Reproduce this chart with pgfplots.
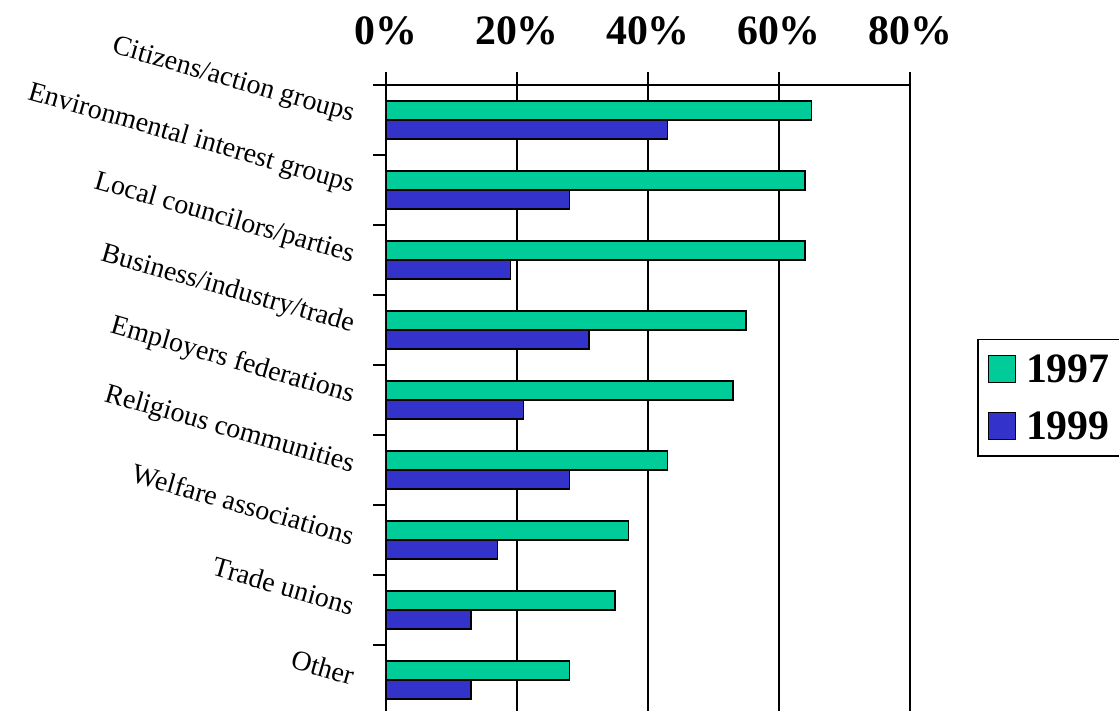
\documentclass[border=0pt]{standalone}
\usepackage{fontspec}
\setmainfont{Liberation Serif}
\usepackage{pgfplots}
\pgfplotsset{compat=1.18}
\definecolor{c97}{RGB}{0,204,153}
\definecolor{c99}{RGB}{51,51,204}

\pgfplotstableread{
cat v97 v99
9 65 43
8 64 28
7 64 19
6 55 31
5 53 21
4 43 28
3 37 17
2 35 13
1 28 13
}\groups

\begin{document}
\begin{tikzpicture}
\begin{axis}[%
name=ax,
width=524bp,
height=630bp,
scale only axis,
xbar,
bar width=19bp,
xmin=0, xmax=80,
ymin=0.5, ymax=9.5,
axis x line*=top,
axis y line*=left,
axis line style={black, line width=1.5bp},
xtick={0,20,40,60,80},
xticklabels={0\%,20\%,40\%,60\%,80\%},
xmajorgrids,
grid style={black, line width=1.5bp},
tick align=outside,
tick style={black, line width=1.5bp},
major tick length=13bp,
x tick label style={font=\bfseries\fontsize{42}{42}\selectfont, yshift=23bp},
ytick={1.5,2.5,...,9.5},
yticklabels={},
extra y ticks={1,...,9},
extra y tick labels={Other,Trade unions,Welfare associations,Religious communities,Employers federations,Business/industry/trade,Local councilors/parties,Environmental interest groups,Citizens/action groups},
extra y tick style={major tick length=0pt},
y tick label style={font=\fontsize{28}{28}\selectfont, rotate=-16, anchor=east, yshift=-5bp, xshift=-29bp},
legend style={at={(1.128,0.597)}, anchor=north west, draw=black, line width=1.5bp,
  font=\bfseries\fontsize{42}{42}\selectfont, row sep=24bp, column sep=8bp, inner xsep=10bp, inner ysep=13bp},
legend cell align=left,
legend image code/.code={\draw[#1, line width=1.2bp] (0bp,-13bp) rectangle (27bp,14bp);},
]
\addplot[fill=c97, draw=black, line width=1.5bp, bar shift=9.5bp] table[x=v97, y=cat] {\groups};
\addlegendentry{1997}
\addplot[fill=c99, draw=black, line width=1.5bp, bar shift=-9.5bp] table[x=v99, y=cat] {\groups};
\addlegendentry{1999}
\end{axis}
\pgfresetboundingbox
\path[use as bounding box] ([shift={(-386bp,4bp)}]ax.south west) rectangle ([shift={(733bp,715bp)}]ax.south west);
\end{tikzpicture}
\end{document}
